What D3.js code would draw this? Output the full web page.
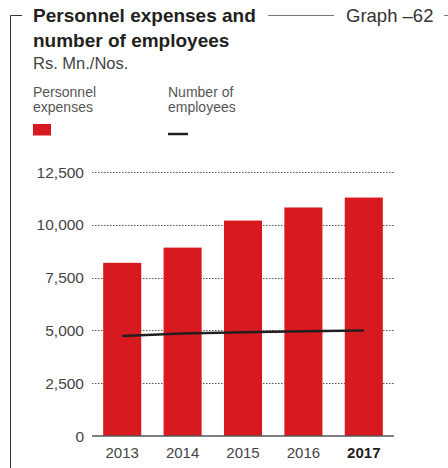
<!DOCTYPE html>
<html>
<head>
<meta charset="utf-8">
<script src="https://cdn.jsdelivr.net/npm/d3@7"></script>
<style>
  body { margin: 0; background: #fff; }
  svg { font-family: "Liberation Sans", Arial, sans-serif; }
</style>
</head>
<body>
<div id="chart"></div>
<script>
// data
const years = ["2013", "2014", "2015", "2016", "2017"];
const expenses = [8200, 8920, 10200, 10820, 11290];
const employees = [4740, 4850, 4915, 4960, 4990];
const yTicks = [0, 2500, 5000, 7500, 10000, 12500];

const width = 448, height = 468;

const svg = d3.select("#chart").append("svg")
  .attr("width", width)
  .attr("height", height);

// frame lines
svg.append("path")
  .attr("d", "M10.5,468 V15.5 H22")
  .attr("fill", "none").attr("stroke", "#333").attr("stroke-width", 1);
svg.append("line")
  .attr("x1", 268).attr("x2", 334).attr("y1", 15.5).attr("y2", 15.5)
  .attr("stroke", "#777").attr("stroke-width", 1);
svg.append("line")
  .attr("x1", 444).attr("x2", 448).attr("y1", 15.5).attr("y2", 15.5)
  .attr("stroke", "#777").attr("stroke-width", 1);

// titles
svg.append("text").attr("x", 33).attr("y", 22)
  .attr("font-size", 19).attr("font-weight", "bold").attr("fill", "#231f20")
  .text("Personnel expenses and");
svg.append("text").attr("x", 33).attr("y", 47)
  .attr("font-size", 19).attr("font-weight", "bold").attr("fill", "#231f20")
  .text("number of employees");
svg.append("text").attr("x", 33).attr("y", 69)
  .attr("font-size", 16.5).attr("fill", "#444")
  .text("Rs. Mn./Nos.");
svg.append("text").attr("x", 346).attr("y", 22)
  .attr("font-size", 18.5).attr("fill", "#333")
  .text("Graph \u201362");

// legend
const legend = [
  {lines: ["Personnel", "expenses"], x: 33, type: "bar"},
  {lines: ["Number of", "employees"], x: 168, type: "line"}
];
legend.forEach(l => {
  l.lines.forEach((t, i) => {
    svg.append("text").attr("x", l.x).attr("y", 97 + i * 15)
      .attr("font-size", 14).attr("fill", "#555").text(t);
  });
  if (l.type === "bar") {
    svg.append("rect").attr("x", l.x).attr("y", 124).attr("width", 18).attr("height", 11.5)
      .attr("fill", "#d71920");
  } else {
    svg.append("line").attr("x1", l.x).attr("x2", l.x + 20).attr("y1", 134).attr("y2", 134)
      .attr("stroke", "#231f20").attr("stroke-width", 2.5);
  }
});

// scales
const x = d3.scaleBand().domain(years).range([92, 394]).paddingInner(0.37).paddingOuter(0.185);
const y = d3.scaleLinear().domain([0, 12500]).range([436, 172]);

// gridlines
svg.append("g")
  .selectAll("line")
  .data(yTicks.filter(d => d > 0))
  .enter().append("line")
  .attr("x1", 92).attr("x2", 394)
  .attr("y1", d => Math.round(y(d)) + 0.5).attr("y2", d => Math.round(y(d)) + 0.5)
  .attr("stroke", "#555").attr("stroke-width", 1).attr("stroke-dasharray", "1.5,1.5");

// y tick labels
svg.append("g")
  .selectAll("text")
  .data(yTicks)
  .enter().append("text")
  .attr("x", 84).attr("y", d => y(d) + 5.5)
  .attr("text-anchor", "end").attr("font-size", 15.5).attr("fill", "#444")
  .text(d => d3.format(",")(d));

// bars
svg.append("g")
  .selectAll("rect")
  .data(expenses)
  .enter().append("rect")
  .attr("x", (d, i) => x(years[i]))
  .attr("width", x.bandwidth())
  .attr("y", d => y(d))
  .attr("height", d => y(0) - y(d))
  .attr("fill", "#d71920");

// baseline
svg.append("line")
  .attr("x1", 92).attr("x2", 394).attr("y1", y(0)).attr("y2", y(0))
  .attr("stroke", "#555").attr("stroke-width", 1.5);

// employees line
const line = d3.line()
  .x((d, i) => x(years[i]) + x.bandwidth() / 2)
  .y(d => y(d));
svg.append("path")
  .datum(employees)
  .attr("d", line)
  .attr("fill", "none").attr("stroke", "#231f20").attr("stroke-width", 2.5);

// x labels
svg.append("g")
  .selectAll("text")
  .data(years)
  .enter().append("text")
  .attr("x", d => x(d) + x.bandwidth() / 2).attr("y", 458)
  .attr("text-anchor", "middle").attr("font-size", 15)
  .attr("font-weight", d => d === "2017" ? "bold" : "normal")
  .attr("fill", d => d === "2017" ? "#231f20" : "#444")
  .text(d => d);
</script>
</body>
</html>
